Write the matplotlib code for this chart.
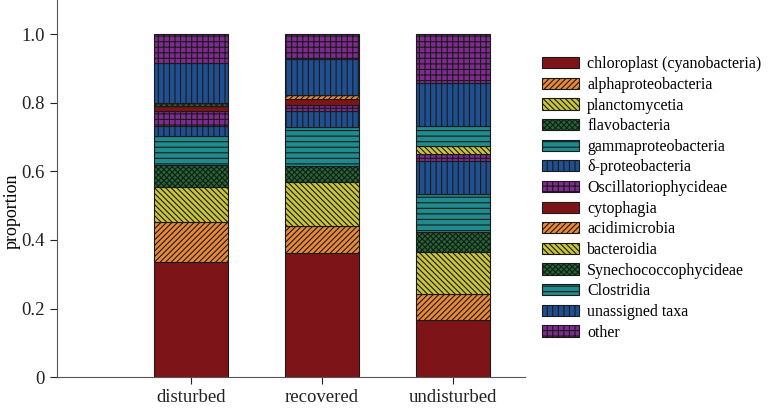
import matplotlib
matplotlib.use("Agg")
import matplotlib.pyplot as plt
import numpy as np

plt.rcParams['font.family'] = ['Liberation Serif', 'DejaVu Serif']
plt.rcParams['hatch.linewidth'] = 0.8

sites = ["disturbed", "recovered", "undisturbed"]
taxa = ["chloroplast (cyanobacteria)", "alphaproteobacteria", "planctomycetia",
        "flavobacteria", "gammaproteobacteria", "δ-proteobacteria",
        "Oscillatoriophycideae", "cytophagia", "acidimicrobia", "bacteroidia",
        "Synechococcophycideae", "Clostridia", "unassigned taxa", "other"]

# proportions per taxon (disturbed, recovered, undisturbed)
chloroplast = [0.336, 0.363, 0.166]
alphaproteobacteria = [0.116, 0.078, 0.077]
planctomycetia = [0.102, 0.127, 0.123]
flavobacteria = [0.065, 0.048, 0.056]
gammaproteobacteria = [0.084, 0.113, 0.112]
delta_proteobacteria = [0.029, 0.048, 0.096]
oscillatoriophycideae = [0.045, 0.018, 0.021]
cytophagia = [0.014, 0.015, 0.000]
acidimicrobia = [0.000, 0.012, 0.000]
bacteroidia = [0.000, 0.000, 0.023]
synechococcophycideae = [0.009, 0.000, 0.000]
clostridia = [0.000, 0.000, 0.059]
unassigned = [0.117, 0.106, 0.125]
other = [0.083, 0.072, 0.142]

values = [chloroplast, alphaproteobacteria, planctomycetia, flavobacteria,
          gammaproteobacteria, delta_proteobacteria, oscillatoriophycideae,
          cytophagia, acidimicrobia, bacteroidia, synechococcophycideae,
          clostridia, unassigned, other]

colors7 = ["#7d1518", "#e8893a", "#c9c53c", "#1f6a30", "#1f8b8c", "#1f4f8f", "#7e2a8e"]
hatches7 = [None, "//////", "\\\\\\\\\\\\", "xxxxxx", "---", "|||", "+++"]
colors = colors7 * 2
hatches = hatches7 * 2

fig = plt.figure(figsize=(7.69, 4.09), dpi=100)
ax = fig.add_axes([0.074, 0.078, 0.609, 0.922])

x = np.arange(len(sites))
bottom = np.zeros(len(sites))
handles = []
for name, vals, c, h in zip(taxa, values, colors, hatches):
    vals = np.array(vals)
    bars = ax.bar(x, vals, width=0.565, bottom=bottom, color=c, hatch=h,
                  edgecolor="#1a1a1a", linewidth=0.8, label=name)
    handles.append(bars)
    bottom += vals

ax.set_xlim(-1.02, 2.55)
ax.set_ylim(0, 1.1)
ax.set_yticks([0, 0.2, 0.4, 0.6, 0.8, 1.0])
ax.set_yticklabels(["0", "0.2", "0.4", "0.6", "0.8", "1.0"])
ax.set_xticks(x)
ax.set_xticklabels(sites)
ax.tick_params(axis="both", labelsize=13.5, colors="#222222", length=5, width=0.8)
ax.set_ylabel("proportion", fontsize=13)
ax.yaxis.set_label_coords(-0.078, 0.44)
for s in ["top", "right"]:
    ax.spines[s].set_visible(False)
for s in ["left", "bottom"]:
    ax.spines[s].set_color("#555555")
    ax.spines[s].set_linewidth(0.8)

fig.legend(handles=handles, labels=taxa, loc="upper left",
           bbox_to_anchor=(0.697, 0.878), frameon=False, fontsize=11.5,
           handlelength=2.3, handleheight=0.7, labelspacing=0.29,
           handletextpad=0.5, borderaxespad=0)

fig.savefig("out.png", dpi=100)
